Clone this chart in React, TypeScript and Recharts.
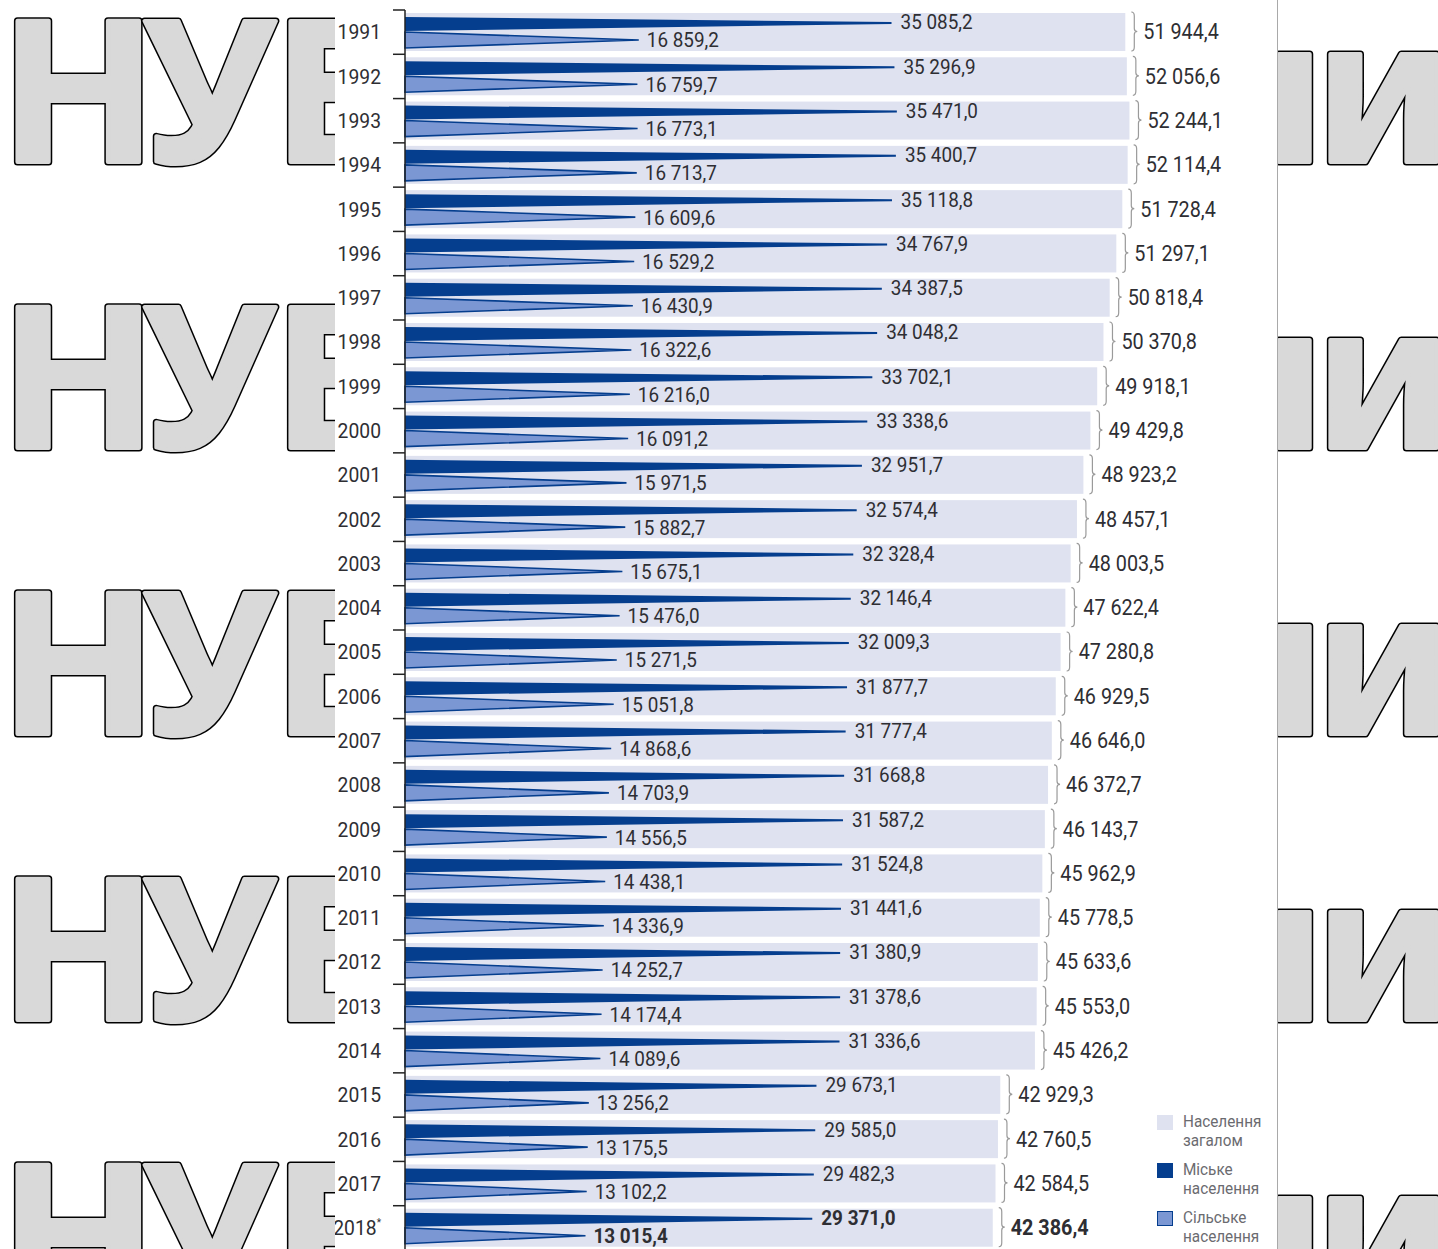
import React from 'react';
import { BarChart, Bar, XAxis, YAxis, Legend } from 'recharts';

// Population of Ukraine, thousands (1991–2018)
const years = [
  '1991', '1992', '1993', '1994', '1995', '1996', '1997', '1998', '1999', '2000',
  '2001', '2002', '2003', '2004', '2005', '2006', '2007', '2008', '2009', '2010',
  '2011', '2012', '2013', '2014', '2015', '2016', '2017', '2018',
];

const urban = [
  35085.2, 35296.9, 35471.0, 35400.7, 35118.8, 34767.9, 34387.5, 34048.2, 33702.1, 33338.6,
  32951.7, 32574.4, 32328.4, 32146.4, 32009.3, 31877.7, 31777.4, 31668.8, 31587.2, 31524.8,
  31441.6, 31380.9, 31378.6, 31336.6, 29673.1, 29585.0, 29482.3, 29371.0,
];

const rural = [
  16859.2, 16759.7, 16773.1, 16713.7, 16609.6, 16529.2, 16430.9, 16322.6, 16216.0, 16091.2,
  15971.5, 15882.7, 15675.1, 15476.0, 15271.5, 15051.8, 14868.6, 14703.9, 14556.5, 14438.1,
  14336.9, 14252.7, 14174.4, 14089.6, 13256.2, 13175.5, 13102.2, 13015.4,
];

const total = [
  51944.4, 52056.6, 52244.1, 52114.4, 51728.4, 51297.1, 50818.4, 50370.8, 49918.1, 49429.8,
  48923.2, 48457.1, 48003.5, 47622.4, 47280.8, 46929.5, 46646.0, 46372.7, 46143.7, 45962.9,
  45778.5, 45633.6, 45553.0, 45426.2, 42929.3, 42760.5, 42584.5, 42386.4,
];

const seriesNames = ['Населення загалом', 'Міське населення', 'Сільське населення'];

const data = years.map((year, i) => ({ year, total: total[i], urban: urban[i], rural: rural[i] }));

const C_TOTAL = '#dfe2f0';
const C_URBAN = '#053e8e';
const C_RURAL = '#7b97d3';
const TEXT = '#2e2e33';

const CHART_W = 943;
const CHART_H = 1250;
const TOP = 10;
const AXIS_X = 70;
const BAND = (CHART_H - TOP) / years.length;
const LAST = years.length - 1;

const fmt = (v: number) => {
  const [i, d] = v.toFixed(1).split('.');
  return i.replace(/\B(?=(\d{3})+(?!\d))/g, ' ') + ',' + d;
};

const CText = ({ x, y, bold = false, anchor = 'start', size = 21, sx = 0.9, children }: any) => (
  <text
    transform={`translate(${x},${y}) scale(${sx},1)`}
    textAnchor={anchor}
    dominantBaseline="central"
    fontFamily="Roboto, 'Liberation Sans', sans-serif"
    fontSize={size}
    fontWeight={bold ? 700 : 400}
    fill={TEXT}
  >
    {children}
  </text>
);

// curly brace on the right of the total bar
const brace = (x: number, y0: number, y1: number) => {
  const m = (y0 + y1) / 2;
  return `M${x},${y0} Q${x + 3},${y0} ${x + 3},${y0 + 4} L${x + 3},${m - 3} Q${x + 3},${m} ${x + 6},${m} ` +
    `Q${x + 3},${m} ${x + 3},${m + 3} L${x + 3},${y1 - 4} Q${x + 3},${y1} ${x},${y1}`;
};

const TotalShape = (p: any) => {
  const { x, y, width, height, index, payload } = p;
  const end = x + width;
  return (
    <g>
      <rect x={x} y={y} width={width} height={height} fill={C_TOTAL} />
      <path d={brace(end + 6, y - 1, y + height)} fill="none" stroke="#9a9a9a" strokeWidth={1.2} />
      <CText x={end + 18} y={y + height / 2} size={22} bold={index === LAST}>{fmt(payload.total)}</CText>
    </g>
  );
};

const UrbanShape = (p: any) => {
  const { x, y, width, index, payload } = p;
  const tip = x + width;
  const pts = `${x},${y + 4} ${tip},${y + 9} ${tip},${y + 11} ${x},${y + 18}`;
  return (
    <g>
      <polygon points={pts} fill={C_URBAN} />
      <CText x={tip + 9} y={y + 9} bold={index === LAST}>{fmt(payload.urban)}</CText>
    </g>
  );
};

const RuralShape = (p: any) => {
  const { x, y, width, index, payload } = p;
  const tip = x + width;
  const pts = `${x},${y + 19} ${tip},${y + 27} ${x},${y + 35}`;
  return (
    <g>
      <polygon points={pts} fill={C_RURAL} stroke={C_URBAN} strokeWidth={1.6} strokeLinejoin="miter" />
      <CText x={tip + 8} y={y + 27} bold={index === LAST}>{fmt(payload.rural)}</CText>
    </g>
  );
};

const YearTick = (p: any) => {
  const { y, payload, index } = p;
  const top = y - BAND / 2;
  return (
    <g>
      <line x1={AXIS_X - 12} x2={AXIS_X} y1={top} y2={top} stroke="#222" strokeWidth={1.5} />
      {index === LAST && (
        <line x1={AXIS_X - 12} x2={AXIS_X} y1={y + BAND / 2} y2={y + BAND / 2} stroke="#222" strokeWidth={1.5} />
      )}
      <CText x={AXIS_X - 24} y={y} anchor="end" size={21} sx={0.92}>
        {payload.value}
        {index === LAST && <tspan fontSize={11} dy={-6}>*</tspan>}
      </CText>
    </g>
  );
};

const LegendBox = (props: any) => {
  const items = [...(props.payload || [])].sort(
    (a: any, b: any) => seriesNames.indexOf(a.value) - seriesNames.indexOf(b.value),
  );
  return (
    <div style={{ fontFamily: 'Roboto, sans-serif', fontSize: 17, lineHeight: '19px', color: '#6b6b70' }}>
      {items.map((it: any, i: number) => (
        <div key={i} style={{ display: 'flex', alignItems: 'flex-start', marginBottom: 10 }}>
          <div
            style={{
              width: 16, height: 15, marginTop: 3, marginRight: 10, flex: 'none',
              background: it.color, border: i === 2 ? `1px solid ${C_URBAN}` : 'none', boxSizing: 'border-box',
            }}
          />
          <div style={{ transform: 'scaleX(0.9)', transformOrigin: 'left top', whiteSpace: 'nowrap' }}>
            {String(it.value).split(' ').map((w: string, k: number) => (
              <div key={k}>{w}</div>
            ))}
          </div>
        </div>
      ))}
    </div>
  );
};

const WM_ROWS = [165, 451, 737, 1023, 1309];

const WMLetter = ({ x, y, ch, anchor = 'start' }: any) => {
  const base = {
    transform: `translate(${x},${y}) scale(1.04,1)`,
    textAnchor: anchor,
    fontFamily: "'Noto Sans', 'Open Sans', sans-serif",
    fontWeight: 700,
    fontSize: 198,
    strokeLinejoin: 'round' as const,
  };
  return (
    <g>
      <text {...base} fill="#000" stroke="#000" strokeWidth={7}>{ch}</text>
      <text {...base} fill="#d9d9d9" stroke="#d9d9d9" strokeWidth={4}>{ch}</text>
    </g>
  );
};

const Watermark = () => (
  <svg width={1438} height={1249} style={{ position: 'absolute', left: 0, top: 0 }}>
    {WM_ROWS.map((b) => (
      <g key={b}>
        <WMLetter x={-1} y={b - 3} ch="Н" />
        <WMLetter x={143} y={b - 3} ch="У" />
        <WMLetter x={272} y={b - 3} ch="Б" />
        <WMLetter x={1326} y={b - 3} ch="н" anchor="end" />
        <WMLetter x={1314} y={b - 3} ch="и" />
      </g>
    ))}
  </svg>
);

export default function App() {
  return (
    <div style={{ position: 'absolute', left: 0, top: 0, width: 1438, height: 1249, overflow: 'hidden', background: '#fff' }}>
      <Watermark />
      <div
        style={{
          position: 'absolute', left: 335, top: 0, width: CHART_W, height: 1249,
          background: '#fff', overflow: 'hidden', borderRight: '1.5px solid #a9a9a9', boxSizing: 'border-box',
        }}
      >
        <BarChart
          width={CHART_W}
          height={CHART_H}
          data={data}
          layout="vertical"
          margin={{ top: TOP, right: CHART_W - AXIS_X - 832, bottom: 0, left: 0 }}
          barSize={38}
          barGap={-38}
        >
          <XAxis type="number" domain={[0, 60000]} hide />
          <YAxis
            type="category"
            dataKey="year"
            width={AXIS_X}
            interval={0}
            tickLine={false}
            axisLine={{ stroke: '#222', strokeWidth: 1.5 }}
            tick={<YearTick />}
          />
          <Bar dataKey="total" name={seriesNames[0]} fill={C_TOTAL} shape={<TotalShape />} isAnimationActive={false} />
          <Bar dataKey="urban" name={seriesNames[1]} fill={C_URBAN} shape={<UrbanShape />} isAnimationActive={false} />
          <Bar dataKey="rural" name={seriesNames[2]} fill={C_RURAL} shape={<RuralShape />} isAnimationActive={false} />
          <Legend
            layout="horizontal"
            verticalAlign="middle"
            align="center"
            content={<LegendBox />}
            wrapperStyle={{ left: 822, top: 1112, width: 120, height: 140 }}
          />
        </BarChart>
      </div>
    </div>
  );
}
